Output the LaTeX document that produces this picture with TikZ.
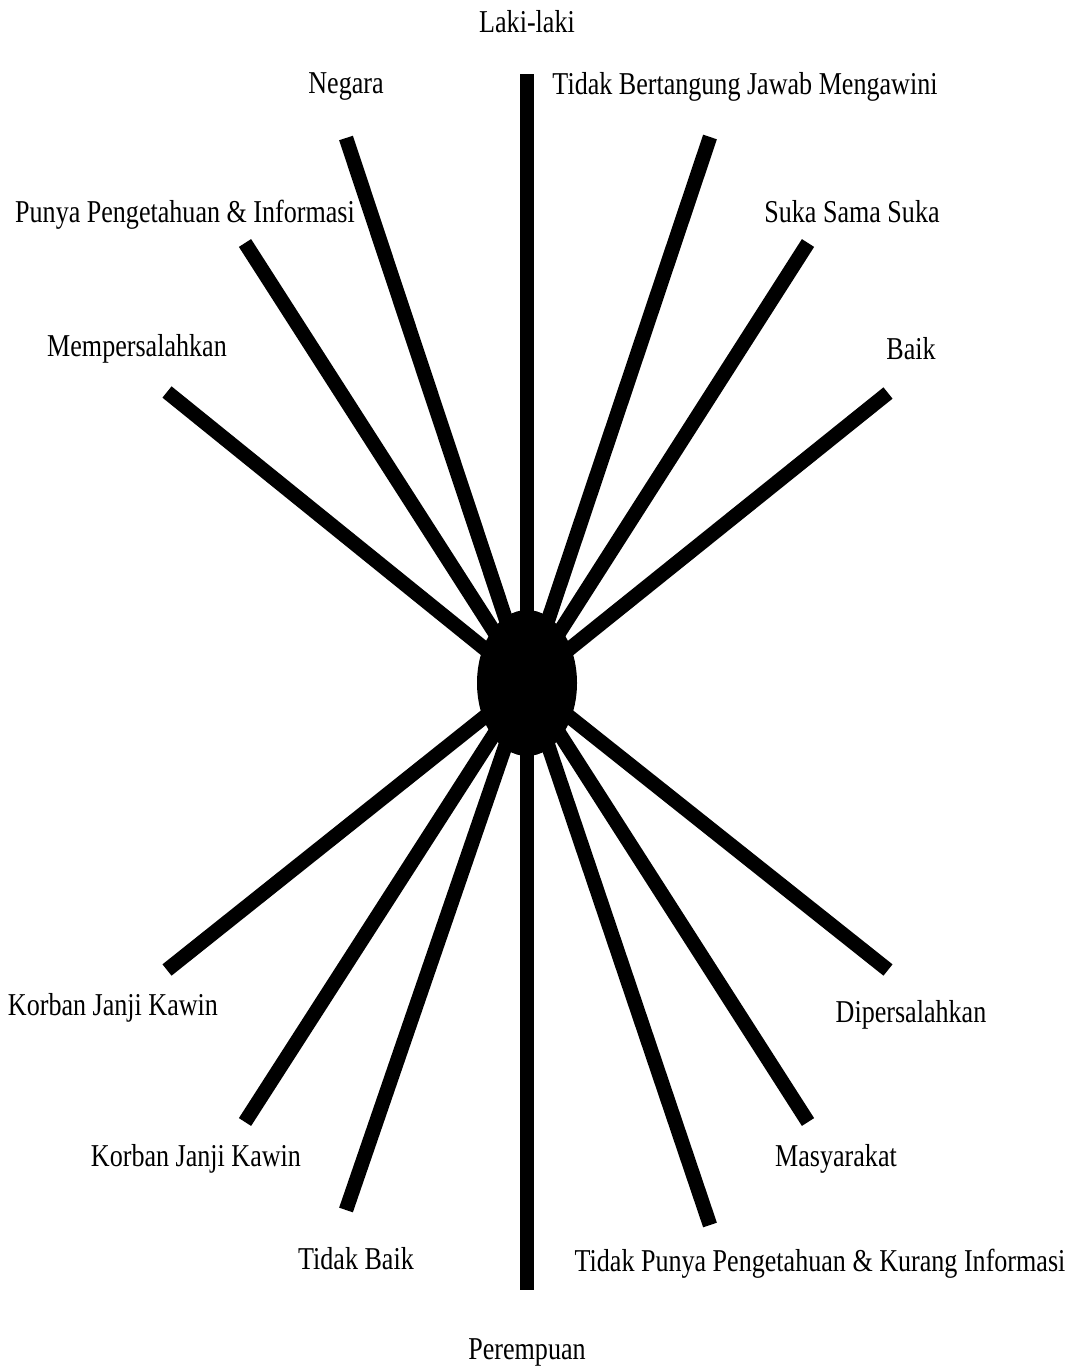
\documentclass[tikz,border=0pt]{standalone}
\usepackage{fontspec}
\setmainfont[FakeStretch=0.82]{Liberation Serif}
\usetikzlibrary{shapes.geometric,backgrounds}
\begin{document}
\begin{tikzpicture}[x=1pt,y=-1pt,
  spoke/.style={line width=14.5pt,line cap=butt},
  lbl/.style={inner sep=0pt,font=\fontsize{31.8}{32}\selectfont,anchor=center},
  hub/.style={ellipse,fill=black,minimum width=100pt,minimum height=146pt,inner sep=0pt}]
\useasboundingbox (0,0) rectangle (1076,1372);
\node[hub] (c) at (527,683) {};
% outer ends of spokes
\coordinate (eT)  at (527,74);
\coordinate (eNg) at (346,138);
\coordinate (ePP) at (245,243);
\coordinate (eMp) at (167,392);
\coordinate (eTB) at (710,137);
\coordinate (eSS) at (808,243);
\coordinate (eBk) at (888,393);
\coordinate (eB)  at (527,1290);
\coordinate (eK1) at (167,970);
\coordinate (eK2) at (245,1122);
\coordinate (eTk) at (346,1210);
\coordinate (eTP) at (710,1225);
\coordinate (eMs) at (808,1122);
\coordinate (eDp) at (888,970);
\begin{scope}[on background layer]
\foreach \e in {eT,eNg,ePP,eMp,eTB,eSS,eBk,eB,eK1,eK2,eTk,eTP,eMs,eDp}
  \draw[spoke] (c.center) -- (\e);
\end{scope}
% labels
\node[lbl] (lL)  at (527,22)   {Laki-laki};
\node[lbl] (lNg) at (346,87)   {Negara};
\node[lbl] (lTB) at (745,87)   {Tidak Bertangung Jawab Mengawini};
\node[lbl] (lPP) at (185,215)  {Punya Pengetahuan \& Informasi};
\node[lbl] (lSS) at (852,212)  {Suka Sama Suka};
\node[lbl] (lMp) at (137,349)  {Mempersalahkan};
\node[lbl] (lBk) at (911,349)  {Baik};
\node[lbl] (lK1) at (113,1008) {Korban Janji Kawin};
\node[lbl] (lDp) at (911,1015) {Dipersalahkan};
\node[lbl] (lK2) at (196,1159) {Korban Janji Kawin};
\node[lbl] (lMs) at (836,1159) {Masyarakat};
\node[lbl] (lTk) at (356,1259) {Tidak Baik};
\node[lbl] (lTP) at (820,1264) {Tidak Punya Pengetahuan \& Kurang Informasi};
\node[lbl] (lPr) at (527,1352) {Perempuan};
\end{tikzpicture}
\end{document}
